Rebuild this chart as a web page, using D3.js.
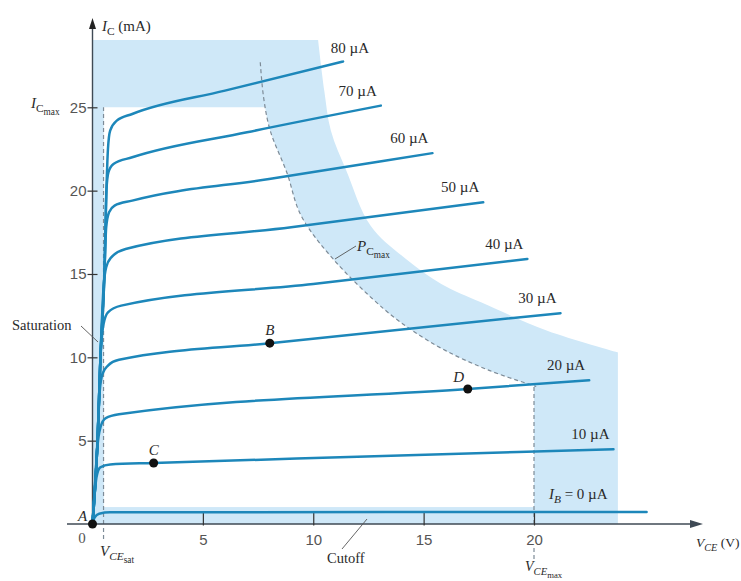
<!DOCTYPE html>
<html>
<head>
<meta charset="utf-8">
<script src="https://cdn.jsdelivr.net/npm/d3@7"></script>
<style>
  html, body { margin: 0; padding: 0; background: #fff; }
  svg { display: block; font-family: "Liberation Serif", "Times New Roman", serif; }
</style>
</head>
<body>
<svg id="chart" width="741" height="581"></svg>
<script>
// Collector characteristics, [V_CE (V), I_C (mA)] for each base current
const ib0  = [[0,0],[0.1,0.4],[0.3,0.62],[0.8,0.7],[25.1,0.72]];
const ib10 = [[0,0],[0.08,1.5],[0.18,2.8],[0.35,3.4],[0.8,3.57],[2.77,3.66],[12,4.03],[23.6,4.49]];
const ib20 = [[0,0],[0.12,2.5],[0.22,4.6],[0.36,5.8],[0.6,6.35],[1.2,6.58],[17,8.1],[22.5,8.62]];
const ib30 = [[0,0],[0.2,4.3],[0.33,8.0],[0.45,9.0],[0.7,9.5],[1.2,9.85],[8.03,10.85],[21.2,12.65]];
const ib40 = [[0,0],[0.23,5],[0.38,10.5],[0.5,12.0],[0.7,12.7],[1.3,13.1],[10,14.4],[19.7,15.9]];
const ib50 = [[0,0],[0.23,5],[0.36,10],[0.5,14.2],[0.62,15.4],[0.85,16.0],[1.5,16.5],[9,17.8],[17.7,19.3]];
const ib60 = [[0,0],[0.23,5],[0.36,10],[0.54,15],[0.62,17.8],[0.75,18.7],[1.0,19.1],[1.8,19.4],[8,20.7],[15.4,22.25]];
const ib70 = [[0,0],[0.23,5],[0.36,10],[0.54,15],[0.63,20],[0.72,21.1],[0.95,21.6],[1.8,22.0],[7,23.5],[13.06,25.1]];
const ib80 = [[0,0],[0.23,5],[0.36,10],[0.54,15],[0.63,20],[0.7,22.5],[0.8,23.6],[1.1,24.2],[1.8,24.6],[6,26.0],[11.35,27.75]];
const baseCurves = [ib0, ib10, ib20, ib30, ib40, ib50, ib60, ib70, ib80];
const baseCurrents = [0, 10, 20, 30, 40, 50, 60, 70, 80]; // µA

// Maximum collector dissipation boundary (dashed)
const pcMaxCurve = [[7.6,27.7],[7.75,25.6],[8.05,23.6],[8.8,21.1],[9.45,18.5],[10.9,15.9],[13.2,12.9],[14.5,11.6],[16,10.4],[18,9.2],[20.1,8.25]];
// Outer edge of the shaded band beyond P_Cmax
const bandOuter = [[10.22,29.04],[10.5,26],[10.8,23.6],[11.5,21.2],[12.6,17.9],[14.2,15.9],[15.8,14.4],[17.6,13.3],[20.6,11.6],[23.8,10.3]];

// Operating points
const pointNames = ["A", "B", "C", "D"];
const pointV = [0, 8.03, 2.77, 17.0];
const pointI = [0, 10.85, 3.66, 8.1];

// Ratings
const vceSat = 0.5, vceMax = 20, icMax = 25, iceo = 1.0;
const shadeTop = 29.04, shadeRight = 23.8;

// Axis ticks
const xTicks = [5, 10, 15, 20];
const yTicks = [5, 10, 15, 20, 25];

const svg = d3.select("#chart");
const x = d3.scaleLinear().domain([0, 20]).range([92.5, 534]);
const y = d3.scaleLinear().domain([0, 25]).range([524, 107.3]);

const straight = d3.line().x(d => x(d[0])).y(d => y(d[1]));
const smooth = d3.line().x(d => x(d[0])).y(d => y(d[1])).curve(d3.curveCatmullRom.alpha(0.5));
const knee = d3.line().x(d => x(d[0])).y(d => y(d[1])).curve(d3.curveMonotoneX);

const BLUE_SHADE = "#cfe8f8";
const CURVE = "#1d87ba";
const INK = "#333";

// --- shaded area outside the safe operating region ---
const outerD = `M${x(0)},${y(0)}L${x(0)},${y(shadeTop)}L` + smooth(bandOuter).slice(1) + `L${x(shadeRight)},${y(0)}Z`;
svg.append("path").attr("d", outerD).attr("fill", BLUE_SHADE);

svg.append("clipPath").attr("id", "opClip")
  .append("rect")
  .attr("x", x(vceSat)).attr("y", y(icMax))
  .attr("width", x(vceMax) - x(vceSat)).attr("height", y(iceo) - y(icMax));

const opD = `M${x(vceSat)},${y(iceo)}L${x(vceSat)},${y(pcMaxCurve[0][1])}L` + smooth(pcMaxCurve).slice(1) + `L${x(vceMax + 1)},${y(pcMaxCurve[pcMaxCurve.length - 1][1])}L${x(vceMax + 1)},${y(iceo)}Z`;
svg.append("path").attr("d", opD).attr("fill", "#fff").attr("clip-path", "url(#opClip)");

// --- dashed boundaries ---
const dash = svg.append("g").attr("fill", "none").attr("stroke", "#7d8b97").attr("stroke-width", 1.2).attr("stroke-dasharray", "4,3");
dash.append("path").attr("d", smooth(pcMaxCurve));
dash.append("path").attr("d", straight([[vceSat, 0], [vceSat, icMax]]));
dash.append("path").attr("d", straight([[vceMax, 0], [vceMax, 8.25]]));
dash.append("line").attr("x1", x(vceSat)).attr("x2", x(vceSat)).attr("y1", y(0) + 4).attr("y2", y(0) + 17);
dash.append("line").attr("x1", x(vceMax)).attr("x2", x(vceMax)).attr("y1", y(0) + 24).attr("y2", y(0) + 36);

// --- axes ---
const axisColor = "#3f4a55";
svg.append("line").attr("x1", 67).attr("x2", 694).attr("y1", y(0)).attr("y2", y(0))
  .attr("stroke", axisColor).attr("stroke-width", 1.4);
svg.append("path").attr("d", `M703,${y(0)}L690,${y(0) - 4}L690,${y(0) + 4}Z`).attr("fill", axisColor);
svg.append("line").attr("x1", x(0)).attr("x2", x(0)).attr("y1", y(0) + 3).attr("y2", 27)
  .attr("stroke", axisColor).attr("stroke-width", 1.4);
svg.append("path").attr("d", `M${x(0)},18L${x(0) - 3.5},29L${x(0) + 3.5},29Z`).attr("fill", "#222");

const xAxis = svg.append("g").attr("transform", `translate(0,${y(0)})`)
  .call(d3.axisBottom(x).tickValues(xTicks).tickSizeInner(-11).tickSizeOuter(0).tickPadding(10));
xAxis.select(".domain").remove();
xAxis.selectAll(".tick line").attr("stroke", INK).attr("stroke-width", 1.2).attr("y1", 1.5);
xAxis.selectAll(".tick text").attr("font-size", 15).attr("fill", "#555").attr("font-family", null);

const yAxis = svg.append("g").attr("transform", `translate(${x(0)},0)`)
  .call(d3.axisLeft(y).tickValues(yTicks).tickSize(5).tickPadding(4));
yAxis.select(".domain").remove();
yAxis.selectAll(".tick line").attr("stroke", INK).attr("stroke-width", 1.2).attr("x2", 5).attr("x1", -5);
yAxis.selectAll(".tick text").attr("font-size", 15).attr("fill", "#555").attr("font-family", null).attr("x", -6);

svg.append("text").attr("x", 82).attr("y", 543).attr("text-anchor", "middle")
  .attr("font-size", 15).attr("fill", "#555").text("0");

// rich label with subscripts
function rich(sel, parts, size) {
  let cur = 0;
  parts.forEach(p => {
    const lvl = p.l || 0;
    const off = [0, 0.28 * size, 0.48 * size][lvl];
    const fs = [size, size * 0.76, size * 0.62][lvl];
    sel.append("tspan").attr("dy", off - cur).attr("font-size", fs)
      .attr("font-style", p.it ? "italic" : "normal").text(p.t);
    cur = off;
  });
  return sel;
}
function label(px, py, parts, size, anchor) {
  const t = svg.append("text").attr("x", px).attr("y", py).attr("fill", "#2a2a2a")
    .attr("text-anchor", anchor || "start");
  return rich(t, parts, size);
}

label(102, 31, [{t: "I", it: 1}, {t: "C", l: 1}, {t: " (mA)"}], 15);
label(696, 547, [{t: "V", it: 1}, {t: "CE", l: 1, it: 1}, {t: " (V)"}], 13.5);
label(31, 108, [{t: "I", it: 1}, {t: "C", l: 1}, {t: "max", l: 2}], 15);
label(100, 556, [{t: "V", it: 1}, {t: "CE", l: 1, it: 1}, {t: "sat", l: 2}], 15);
label(525, 571, [{t: "V", it: 1}, {t: "CE", l: 1, it: 1}, {t: "max", l: 2}], 14);
label(357, 251, [{t: "P", it: 1}, {t: "C", l: 1}, {t: "max", l: 2}], 15);

// annotation labels with leader lines
const leader = svg.append("g").attr("stroke", "#555").attr("stroke-width", 0.9).attr("fill", "none");
svg.append("text").attr("x", 12).attr("y", 330).attr("font-size", 14.5).attr("fill", "#2a2a2a").text("Saturation");
leader.append("path").attr("d", "M81,326L98,342");
svg.append("text").attr("x", 327).attr("y", 563).attr("font-size", 14.5).attr("fill", "#2a2a2a").text("Cutoff");
leader.append("path").attr("d", "M342,549L367,519");
leader.append("path").attr("d", "M335,259L356,246");

// --- base-current curves ---
const curveG = svg.append("g").attr("fill", "none").attr("stroke", CURVE)
  .attr("stroke-width", 2.5).attr("stroke-linecap", "round");
baseCurves.forEach(c => curveG.append("path").attr("d", knee(c)));

// curve labels at the right end of each curve
const labelShift = {0: [-39, -13], 80: [26, -8]};
baseCurves.forEach((c, i) => {
  const end = c[c.length - 1];
  const ib = baseCurrents[i];
  const [dx, dy] = labelShift[ib] || [-4, -10];
  const parts = ib === 0
    ? [{t: "I", it: 1}, {t: "B", l: 1, it: 1}, {t: " = 0 µA"}]
    : [{t: `${ib} µA`}];
  label(x(end[0]) + dx, y(end[1]) + dy, parts, 15, "end");
});

// --- operating points ---
const pts = pointNames.map((n, i) => ({n, v: pointV[i], i: pointI[i]}));
svg.append("g").selectAll("circle").data(pts).join("circle")
  .attr("cx", d => x(d.v)).attr("cy", d => y(d.i)).attr("r", 4.5).attr("fill", "#111");
const ptShift = {A: [-10, -3], B: [0, -8], C: [0, -8], D: [-9, -7]};
svg.append("g").selectAll("text").data(pts).join("text")
  .attr("x", d => x(d.v) + ptShift[d.n][0]).attr("y", d => y(d.i) + ptShift[d.n][1])
  .attr("text-anchor", "middle").attr("font-size", 15).attr("font-style", "italic")
  .attr("fill", "#2a2a2a").text(d => d.n);
</script>
</body>
</html>
